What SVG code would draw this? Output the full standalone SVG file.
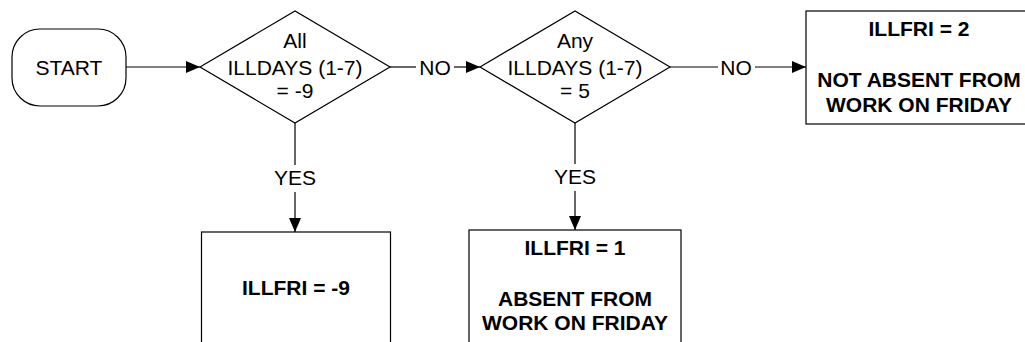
<svg xmlns="http://www.w3.org/2000/svg" width="1025" height="342" viewBox="0 0 1025 342">
<style>
.shape{fill:#fff;stroke:#000;stroke-width:1.2}
.line{fill:none;stroke:#000;stroke-width:1.2}
.t{font-family:"Liberation Sans",Arial,sans-serif;font-size:21px;fill:#000;text-anchor:middle}
.b{font-weight:bold}
</style>
<defs>
<marker id="arr" viewBox="0 0 14 12" refX="14" refY="6" markerWidth="14" markerHeight="12" markerUnits="userSpaceOnUse" orient="auto">
<path d="M0,0 L14,6 L0,12 Z" fill="#000"/>
</marker>
</defs>
<g id="connectors">
<line class="line" x1="126" y1="67" x2="200" y2="67" marker-end="url(#arr)"/>
<line class="line" x1="390" y1="67" x2="416" y2="67"/>
<line class="line" x1="454" y1="67" x2="480" y2="67" marker-end="url(#arr)"/>
<text class="t" x="435" y="75">NO</text>
<line class="line" x1="670" y1="67" x2="718" y2="67"/>
<line class="line" x1="755" y1="67" x2="806" y2="67" marker-end="url(#arr)"/>
<text class="t" x="736" y="75">NO</text>
<line class="line" x1="295" y1="123" x2="295" y2="165"/>
<line class="line" x1="295" y1="192" x2="295" y2="232" marker-end="url(#arr)"/>
<text class="t" x="295" y="185">YES</text>
<line class="line" x1="575" y1="123" x2="575" y2="164"/>
<line class="line" x1="575" y1="191" x2="575" y2="230" marker-end="url(#arr)"/>
<text class="t" x="575" y="184">YES</text>
</g>
<g id="start">
<rect class="shape" x="12" y="29" width="114" height="77" rx="28" ry="28"/>
<text class="t" x="69" y="75">START</text>
</g>
<g id="decision1">
<polygon class="shape" points="200,67 295,11 390,67 295,123"/>
<text class="t" x="295" y="48">All</text>
<text class="t" x="295" y="75">ILLDAYS (1-7)</text>
<text class="t" x="295" y="98">= -9</text>
</g>
<g id="decision2">
<polygon class="shape" points="480,67 575,11 670,67 575,123"/>
<text class="t" x="575" y="48">Any</text>
<text class="t" x="575" y="75">ILLDAYS (1-7)</text>
<text class="t" x="575" y="98">= 5</text>
</g>
<g id="notabsent">
<rect class="shape" x="806" y="11" width="230" height="113"/>
<text class="t b" x="919" y="36">ILLFRI = 2</text>
<text class="t b" x="919" y="87">NOT ABSENT FROM</text>
<text class="t b" x="919" y="112">WORK ON FRIDAY</text>
</g>
<g id="missing">
<rect class="shape" x="201.5" y="232" width="189" height="130"/>
<text class="t b" x="296" y="295">ILLFRI = -9</text>
</g>
<g id="absent">
<rect class="shape" x="469" y="230" width="212" height="130"/>
<text class="t b" x="575" y="255">ILLFRI = 1</text>
<text class="t b" x="575" y="306">ABSENT FROM</text>
<text class="t b" x="575" y="330">WORK ON FRIDAY</text>
</g>
</svg>
